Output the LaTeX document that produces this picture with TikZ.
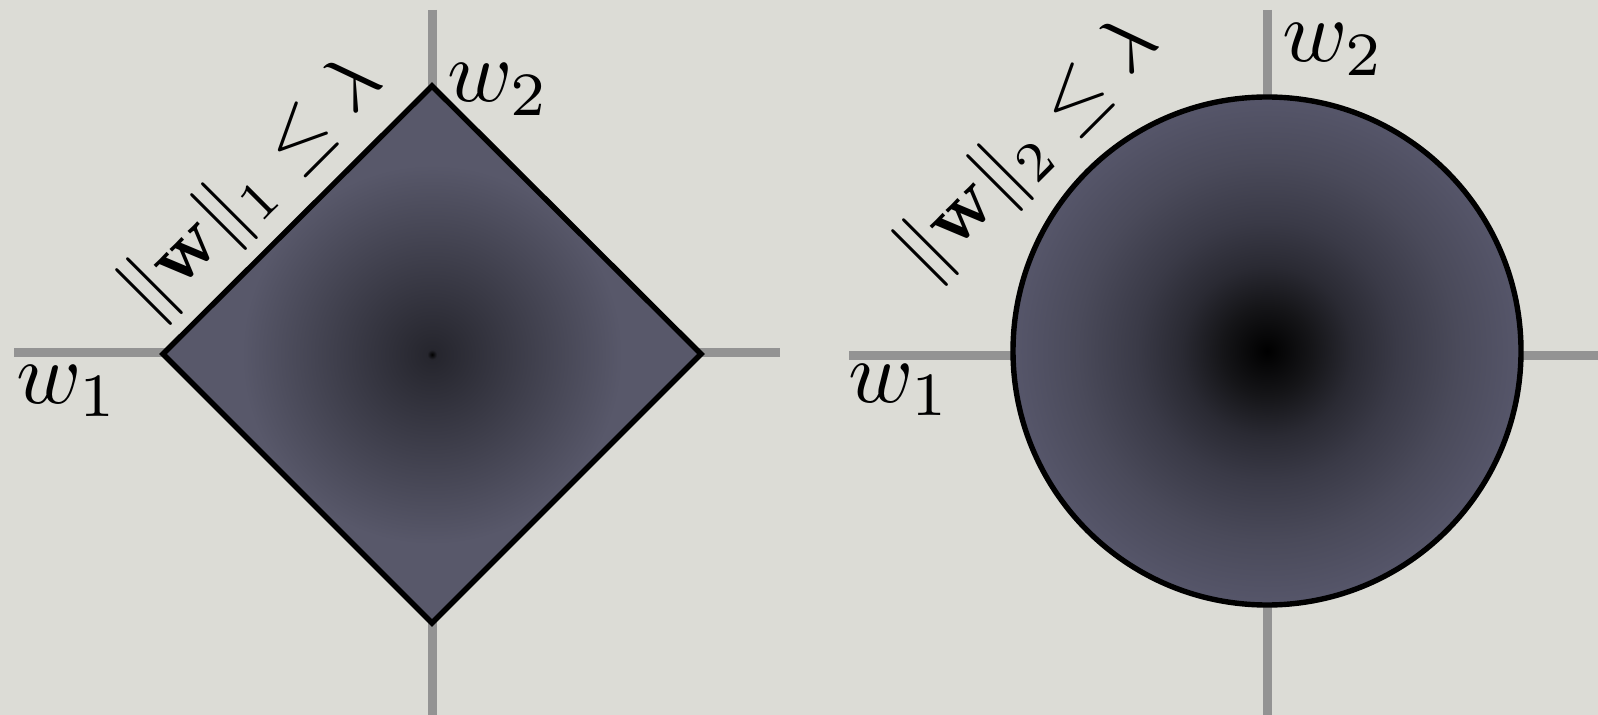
\documentclass[tikz,border=0pt]{standalone}
\definecolor{bgc}{HTML}{DCDCD6}
\definecolor{axc}{HTML}{939393}
\definecolor{ca}{HTML}{151518}
\definecolor{cb}{HTML}{2A2A33}
\definecolor{cc}{HTML}{3A3A47}
\definecolor{cd}{HTML}{4A4A5A}
\definecolor{ce}{HTML}{56566A}
\definecolor{da}{HTML}{26262E}
\definecolor{db}{HTML}{58586A}
\pgfdeclareradialshading{ballLtwo}{\pgfpoint{0bp}{0bp}}{color(0bp)=(black); color(4.4bp)=(ca); color(8.4bp)=(cb); color(12.8bp)=(cc); color(18.7bp)=(cd); color(25bp)=(ce); color(50bp)=(ce)}
\pgfdeclareradialshading{ballLone}{\pgfpoint{0bp}{0bp}}{color(0bp)=(black); color(0.45bp)=(da); color(17.7bp)=(db); color(50bp)=(db)}
\newcommand{\wlabtext}[1]{\scalebox{4.4}{$#1$}}
\newcommand{\normlabtext}[1]{\scalebox{3.95}{$#1$}}
\begin{document}
\begin{tikzpicture}[x=0.5pt,y=-0.5pt,
  axis/.style={draw=axc, line width=4.5pt},
  region/.style={draw=black, line width=2.7pt},
  wlab/.style={inner sep=0pt, anchor=base west},
  normlab/.style={inner sep=0pt, rotate=45}]
\fill[bgc] (0,0) rectangle (1598,715);
\useasboundingbox (0,0) rectangle (1598,715);
% left axes
\coordinate (lha) at (14,353);
\coordinate (lhb) at (780,353);
\coordinate (lva) at (432,10);
\coordinate (lvb) at (432,715);
\draw[axis] (lha) -- (lhb);
\draw[axis] (lva) -- (lvb);
% diamond
\coordinate (dT) at (432,86);
\coordinate (dR) at (701,354);
\coordinate (dB) at (432,623);
\coordinate (dL) at (163,354);
\path[region, shade, shading=ballLone] (dT) -- (dR) -- (dB) -- (dL) -- cycle;
% right axes
\coordinate (rha) at (849,356);
\coordinate (rhb) at (1598,356);
\coordinate (rva) at (1267,10);
\coordinate (rvb) at (1267,715);
\draw[axis] (rha) -- (rhb);
\draw[axis] (rva) -- (rvb);
% circle
\coordinate (cC) at (1267,351);
\path[region, shade, shading=ballLtwo] (cC) circle (127pt);
% labels
\node[wlab] (w1L) at (16,403) {\wlabtext{w_1}};
\node[wlab] (w2L) at (447,102) {\wlabtext{w_2}};
\node[wlab] (w1R) at (848,402) {\wlabtext{w_1}};
\node[wlab] (w2R) at (1282,62) {\wlabtext{w_2}};
\node[normlab] (nL) at (253,188) {\normlabtext{\|\mathbf{w}\|_1 \le \lambda}};
\node[normlab] (nR) at (1029,149) {\normlabtext{\|\mathbf{w}\|_2 \le \lambda}};
\end{tikzpicture}
\end{document}
